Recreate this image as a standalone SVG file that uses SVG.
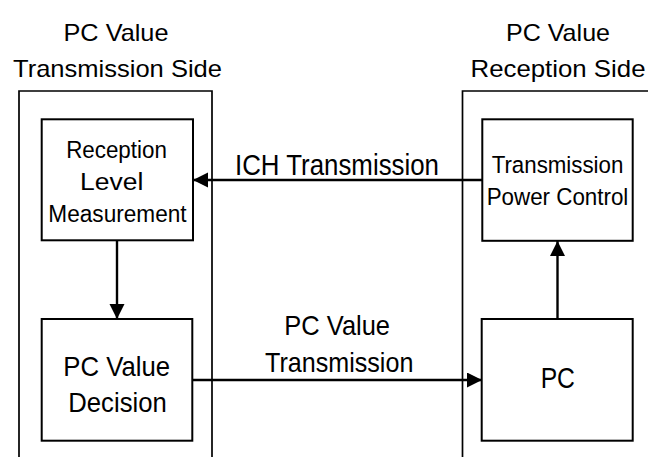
<svg xmlns="http://www.w3.org/2000/svg" width="648" height="457" viewBox="0 0 648 457">
  <style>
    text { font-family: "Liberation Sans", Arial, sans-serif; fill: #000; text-anchor: middle; }
    .outer { fill: none; stroke: #000; stroke-width: 1.7; }
    .box { fill: #fff; stroke: #000; stroke-width: 2; }
    .conn { fill: none; stroke: #000; stroke-width: 2.4; marker-end: url(#arrow); }
  </style>
  <defs>
    <marker id="arrow" markerUnits="userSpaceOnUse" markerWidth="16" markerHeight="16" refX="15" refY="7.5" orient="auto">
      <path d="M0,0 L15,7.5 L0,15 Z" fill="#000"/>
    </marker>
  </defs>
  <rect width="648" height="457" fill="#fff"/>

  <g id="tx-side">
    <path class="outer" d="M19,460 V91 H212 V460"/>
    <text x="116" y="40.7" font-size="24" textLength="105" lengthAdjust="spacingAndGlyphs">PC Value</text>
    <text x="117.5" y="77.3" font-size="24" textLength="209" lengthAdjust="spacingAndGlyphs">Transmission Side</text>
  </g>

  <g id="rx-side">
    <path class="outer" d="M462.5,460 V91 H652"/>
    <text x="558" y="40.7" font-size="24" textLength="104" lengthAdjust="spacingAndGlyphs">PC Value</text>
    <text x="558" y="77.3" font-size="24" textLength="175" lengthAdjust="spacingAndGlyphs">Reception Side</text>
  </g>

  <g id="connectors">
    <path class="conn" d="M482,180 H193"/>
    <path class="conn" d="M117,241 V319"/>
    <path class="conn" d="M192,380 H482"/>
    <path class="conn" d="M557.5,319 V241"/>
  </g>

  <g id="reception-level">
    <rect class="box" x="41.7" y="119.3" width="151.3" height="121"/>
    <text x="116.5" y="158.3" font-size="23" textLength="100.7" lengthAdjust="spacingAndGlyphs">Reception</text>
    <text x="111.7" y="190" font-size="23" textLength="63.3" lengthAdjust="spacingAndGlyphs">Level</text>
    <text x="117.5" y="221.7" font-size="23" textLength="138.3" lengthAdjust="spacingAndGlyphs">Measurement</text>
  </g>

  <g id="ich-label">
    <text x="337" y="175" font-size="29.5" textLength="204" lengthAdjust="spacingAndGlyphs">ICH Transmission</text>
  </g>

  <g id="tx-power-control">
    <rect class="box" x="482.3" y="119.3" width="150.4" height="121.5"/>
    <text x="557.5" y="172.7" font-size="24.5" textLength="131.7" lengthAdjust="spacingAndGlyphs">Transmission</text>
    <text x="557.5" y="205" font-size="24.5" textLength="141.7" lengthAdjust="spacingAndGlyphs">Power Control</text>
  </g>

  <g id="pc-value-decision">
    <rect class="box" x="41.7" y="319" width="150.6" height="121.7"/>
    <text x="116.7" y="375.7" font-size="28.5" textLength="106.7" lengthAdjust="spacingAndGlyphs">PC Value</text>
    <text x="117.5" y="411.7" font-size="28.5" textLength="98.4" lengthAdjust="spacingAndGlyphs">Decision</text>
  </g>

  <g id="pc-value-label">
    <text x="337.2" y="335" font-size="28" textLength="105.7" lengthAdjust="spacingAndGlyphs">PC Value</text>
    <text x="339.2" y="371.7" font-size="28" textLength="148.3" lengthAdjust="spacingAndGlyphs">Transmission</text>
  </g>

  <g id="pc">
    <rect class="box" x="481.7" y="319" width="151" height="121.7"/>
    <text x="557.8" y="388.3" font-size="30" textLength="34.3" lengthAdjust="spacingAndGlyphs">PC</text>
  </g>
</svg>
